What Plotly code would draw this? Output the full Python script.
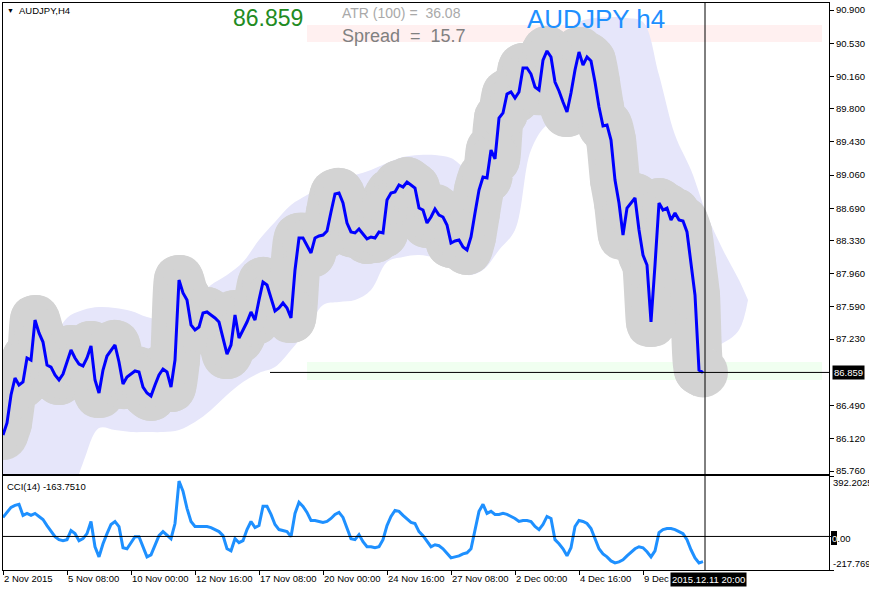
import plotly.graph_objects as go

# ---------------- data ----------------
price = [86.161, 86.295, 86.607, 86.797, 86.719, 86.752, 87.020, 86.997, 87.443, 87.299,
         87.198, 86.942, 86.919, 86.830, 86.774, 86.841, 86.975, 87.109, 87.020, 86.953,
         86.931, 87.020, 87.154, 86.774, 86.630, 86.886, 87.042, 87.109, 87.165, 86.975,
         86.730, 86.808, 86.841, 86.875, 86.864, 86.696, 86.630, 86.596, 86.719, 86.830,
         86.897, 86.864, 86.696, 86.997, 87.889, 87.745, 87.666, 87.388, 87.332, 87.365,
         87.522, 87.533, 87.499, 87.466, 87.421, 87.243, 87.064, 87.165, 87.499, 87.243,
         87.332, 87.421, 87.533, 87.443, 87.666, 87.867, 87.834, 87.689, 87.544, 87.577,
         87.633, 87.577, 87.466, 88.001, 88.358, 88.358, 88.280, 88.191, 88.358, 88.380,
         88.391, 88.436, 88.648, 88.848, 88.860, 88.748, 88.525, 88.425, 88.414, 88.458,
         88.402, 88.347, 88.369, 88.358, 88.425, 88.414, 88.781, 88.860, 88.871, 88.949,
         88.926, 88.982, 88.949, 88.915, 88.692, 88.670, 88.525, 88.592, 88.681, 88.614,
         88.592, 88.503, 88.302, 88.324, 88.335, 88.257, 88.224, 88.369, 88.637, 88.893,
         89.038, 89.027, 89.339, 89.239, 89.696, 89.752, 89.963, 89.986, 89.919, 89.986,
         90.253, 90.253, 90.186, 90.041, 90.008, 90.342, 90.443, 90.376, 90.097, 89.997,
         89.874, 89.763, 89.975, 90.231, 90.432, 90.287, 90.376, 90.331, 90.097, 89.818,
         89.607, 89.618, 89.450, 89.004, 88.748, 88.391, 88.692, 88.748, 88.804, 88.447,
         88.168, 88.057, 87.421, 88.057, 88.748, 88.670, 88.692, 88.558, 88.637, 88.558,
         88.547, 88.425, 88.090, 87.722, 86.886, 86.859]

cci = [123.3, 156.1, 188.8, 202.0, 208.5, 136.4, 149.5, 136.4, 149.5, 129.8,
       110.2, 70.8, 38.0, -1.3, -21.0, -27.5, -21.0, 38.0, 18.4, -27.5,
       -14.4, 18.4, 97.0, -66.9, -132.5, -47.2, 18.4, 77.4, 97.0, 64.3,
       -73.4, -80.0, -40.7, -1.3, -1.3, -66.9, -132.5, -119.3, -53.8, 5.2,
       31.5, 5.2, -14.4, 83.9, 359.3, 293.8, 182.3, 97.0, 64.3, 64.3,
       64.3, 64.3, 57.7, 44.6, 31.5, 5.2, -80.0, -93.1, -14.4, -40.7,
       -27.5, 44.6, 97.0, 57.7, 70.8, 195.4, 195.4, 142.9, 77.4, 44.6,
       38.0, 31.5, -1.3, 149.5, 221.6, 195.4, 156.1, 103.6, 103.6, 97.0,
       90.5, 97.0, 116.7, 142.9, 156.1, 123.3, 51.1, -14.4, -21.0, 11.8,
       -34.1, -66.9, -66.9, -73.4, -66.9, -21.0, 70.8, 129.8, 169.2, 162.6,
       136.4, 110.2, 90.5, 83.9, 31.5, 5.2, -27.5, -66.9, -53.8, -60.3,
       -80.0, -106.2, -139.0, -132.5, -125.9, -112.8, -106.2, -80.0, 51.1, 162.6,
       208.5, 149.5, 162.6, 142.9, 142.9, 149.5, 142.9, 129.8, 116.7, 97.0,
       103.6, 103.6, 97.0, 64.3, 44.6, 77.4, 129.8, 116.7, -21.0, -47.2,
       -80.0, -125.9, -73.4, 64.3, 103.6, 97.0, 83.9, 51.1, -14.4, -80.0,
       -112.8, -132.5, -158.7, -171.8, -165.2, -152.1, -125.9, -99.7, -80.0, -66.9,
       -73.4, -99.7, -132.5, -93.1, 24.9, 44.6, 51.1, 51.1, 44.6, 31.5,
       18.4, -21.0, -86.6, -139.0, -171.8, -163.751]

bars = list(range(len(price)))

# lavender envelope (upper / lower edge), sampled every 4 bars
lav_bar = [0, 4, 8, 12, 16, 20, 24, 28, 32, 36, 40, 44, 48, 52, 56, 60, 64, 68, 72, 76,
           80, 84, 88, 92, 96, 100, 104, 108, 112, 116, 120, 124, 128, 132, 136, 140, 144,
           148, 152, 156, 160, 164, 168, 172, 176, 180, 184, 186.25]
lav_upper = [86.552, 86.663, 86.886, 87.165, 87.466, 87.555, 87.588, 87.577, 87.544, 87.477,
             87.443, 87.499, 87.666, 87.834, 87.945, 88.090, 88.336, 88.536, 88.726, 88.837,
             88.949, 89.005, 89.060, 89.116, 89.194, 89.261, 89.283, 89.283, 89.250, 89.138,
             89.228, 89.451, 89.785, 90.120, 90.398, 90.588, 90.766, 90.811, 90.822, 90.811,
             90.766, 90.175, 89.506, 89.116, 88.614, 88.224, 87.889, 87.666]
lav_lower = [85.214, 85.214, 85.214, 85.214, 85.381, 85.849, 86.239, 86.217, 86.195, 86.195,
             86.195, 86.217, 86.306, 86.440, 86.607, 86.752, 86.853, 86.919, 87.109, 87.332,
             87.611, 87.644, 87.666, 87.778, 88.090, 88.146, 88.168, 88.135, 88.057, 87.945,
             88.001, 88.224, 88.447, 89.339, 89.618, 89.674, 89.618, 89.562, 89.339, 88.782,
             88.224, 87.666, 87.332, 87.165, 87.131, 87.187, 87.332, 87.666]

tick_bars = [0, 16, 32, 48, 64, 80, 96, 112, 128, 144, 160]
tick_labels = ["2 Nov 2015", "5 Nov 08:00", "10 Nov 00:00", "12 Nov 16:00", "17 Nov 08:00",
               "20 Nov 00:00", "24 Nov 16:00", "27 Nov 08:00", "2 Dec 00:00", "4 Dec 16:00",
               "9 Dec 08:00"]
price_ticks = [90.90, 90.53, 90.16, 89.80, 89.43, 89.06, 88.69, 88.33, 87.96, 87.59,
               87.23, 86.49, 86.12, 85.76]
cci_max, cci_min = 392.2025, -217.769
last_price = 86.859
cursor_bar = 175.5
line_start_bar = 66.75

# ---------------- figure ----------------
W, H = 869, 591
ML, MR, MT, MB = 3, 40, 3, 21
PW, PH = W - ML - MR, H - MT - MB
FONT = "Liberation Sans, Arial, sans-serif"


def px(x):
    return (x - ML) / PW


def py(y):
    return (H - MB - y) / PH


fig = go.Figure()

fig.add_trace(go.Scatter(x=lav_bar, y=lav_lower, mode="lines", line=dict(width=0, shape="spline", color="#E6E6FA"),
                         hoverinfo="skip", showlegend=False))
fig.add_trace(go.Scatter(x=lav_bar, y=lav_upper, mode="lines", line=dict(width=0, shape="spline", color="#E6E6FA"),
                         fill="tonexty", fillcolor="#E6E6FA", hoverinfo="skip", showlegend=False))
fig.add_trace(go.Scatter(x=bars, y=price, mode="lines+markers",
                         line=dict(width=50, color="#D3D3D3", shape="spline", smoothing=0.6),
                         marker=dict(size=50, color="#D3D3D3", line=dict(width=0)),
                         hoverinfo="skip", showlegend=False))
fig.add_trace(go.Scatter(x=bars, y=price, mode="lines", line=dict(width=3, color="#0000FF"),
                         showlegend=False))
fig.add_trace(go.Scatter(x=bars, y=cci, mode="lines", line=dict(width=3, color="#1E90FF"),
                         xaxis="x2", yaxis="y2", showlegend=False))

main_bottom = 474
cci_top = 476

fig.update_layout(
    width=W, height=H, margin=dict(l=ML, r=MR, t=MT, b=MB, autoexpand=False),
    paper_bgcolor="white", plot_bgcolor="white",
    font=dict(family=FONT, size=9.5, color="black"),
    hovermode=False,
    xaxis=dict(domain=[0, 1], anchor="y", range=[0, 206.5], showline=True, linecolor="black",
               linewidth=1, mirror=True, showticklabels=False, ticks="", showgrid=False,
               zeroline=False, automargin=False),
    xaxis2=dict(domain=[0, 1], anchor="y2", range=[0, 206.5], matches="x", showline=True,
                linecolor="black", linewidth=1, mirror=True, tickvals=tick_bars,
                ticktext=tick_labels, ticks="outside", ticklen=4, tickcolor="black",
                tickangle=0, automargin=False,
                ticklabelposition="outside right", showgrid=False, zeroline=False,
                tickfont=dict(size=9.5, family=FONT, color="black")),
    yaxis=dict(domain=[py(main_bottom), 1], anchor="x", range=[85.7265, 90.978], side="right",
               tickvals=price_ticks, ticktext=["%.3f" % v for v in price_ticks],
               ticks="outside", ticklen=4, tickcolor="black", showline=True, linecolor="black",
               linewidth=1, mirror=True, showgrid=False, zeroline=False, automargin=False,
               tickfont=dict(size=9.5, family=FONT, color="black")),
    yaxis2=dict(domain=[0, py(cci_top)], anchor="x2", range=[cci_min, cci_max], side="right",
                tickvals=[cci_max, 0, cci_min], showticklabels=False, ticks="outside", ticklen=4,
                tickcolor="black", showline=True, linecolor="black", linewidth=1, mirror=True,
                showgrid=False, zeroline=False, automargin=False),
)

shapes = [
    dict(type="rect", xref="paper", yref="paper", x0=px(307), x1=px(822), y0=py(42), y1=py(25),
         fillcolor="#FFF0F0", line=dict(width=0), layer="below"),
    dict(type="rect", xref="paper", yref="paper", x0=px(307), x1=px(822), y0=py(380), y1=py(362),
         fillcolor="#F0FFF0", line=dict(width=0), layer="below"),
    dict(type="line", xref="x", yref="y", x0=line_start_bar, x1=206.5, y0=last_price, y1=last_price,
         line=dict(color="black", width=1)),
    dict(type="line", xref="x", yref="paper", x0=cursor_bar, x1=cursor_bar, y0=0, y1=1,
         line=dict(color="black", width=1)),
    dict(type="line", xref="paper", yref="y2", x0=0, x1=1, y0=0, y1=0,
         line=dict(color="black", width=1)),
    dict(type="rect", xref="paper", yref="paper", x0=px(831), x1=px(837), y0=py(545), y1=py(531),
         fillcolor="black", line=dict(width=0)),
]
fig.update_layout(shapes=shapes)

ann = []


def label(text, x, y, size, color, xanchor="left", **kw):
    ann.append(dict(text=text, xref="paper", yref="paper", x=px(x), y=py(y), xanchor=xanchor,
                    yanchor="middle", showarrow=False, font=dict(family=FONT, size=size, color=color),
                    borderpad=0, **kw))


NB = "\u00a0"
label("\u25bc", 6, 10, 7, "black")
label("AUDJPY,H4", 18, 10, 9.5, "black")
label("86.859", 232, 18, 23, "#228B22")
label("ATR (100) =" + NB + NB + "36.08", 341, 13, 14, "#A9A9A9")
label("Spread" + NB + NB + "=" + NB + NB + "15.7", 341, 36, 18, "#808080")
label("AUDJPY h4", 526, 19, 26, "#1E90FF")
label("CCI(14) -163.7510", 6, 486, 9.5, "black")
label("392.2025", 832, 482, 9.5, "black")
label("-217.769", 832, 563, 9.5, "black")
label("0.00", 831, 538, 9.5, "black")
label("0", 831, 538, 9.5, "white")
ann.append(dict(text="86.859", xref="paper", yref="y", x=1, y=last_price, xanchor="left", xshift=3,
                yanchor="middle", showarrow=False, bgcolor="black", borderpad=1,
                font=dict(family=FONT, size=9.5, color="white")))
ann.append(dict(text="2015.12.11 20:00", xref="paper", yref="paper", x=px(708), y=0, yshift=-2,
                xanchor="center", yanchor="top", showarrow=False, bgcolor="black", borderpad=1,
                font=dict(family=FONT, size=9.5, color="white")))
fig.update_layout(annotations=ann)

fig.write_html("out.html", config={"displayModeBar": False},
               post_script="document.body.style.margin='0';")
